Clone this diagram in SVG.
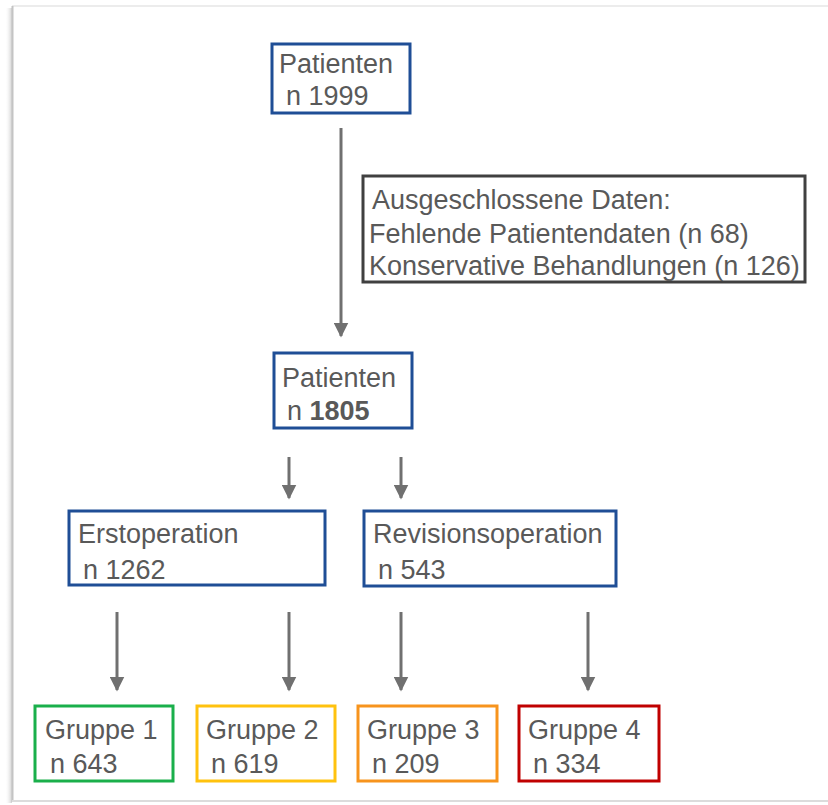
<svg xmlns="http://www.w3.org/2000/svg" width="828" height="805" viewBox="0 0 828 805">
<defs>
<marker id="ah" viewBox="0 0 10 10" refX="9" refY="5" markerWidth="5" markerHeight="5" markerUnits="strokeWidth" orient="auto">
<path d="M0,0 L10,5 L0,10 z" fill="#707070"/>
</marker>
<linearGradient id="sh" x1="0" x2="1" y1="0" y2="0">
<stop offset="0" stop-color="#ffffff" stop-opacity="0"/>
<stop offset="1" stop-color="#d0d0d0"/>
</linearGradient>
</defs>
<style>
text{font-family:"Liberation Sans",Arial,sans-serif;font-size:27px;fill:#595959}
.b{fill:#fff;stroke-width:3}
.blue{stroke:#1f4e96}
.conn line{stroke:#707070;stroke-width:3;marker-end:url(#ah)}
</style>
<rect width="828" height="805" fill="#fff"/>
<g id="frame">
<rect x="5" y="8" width="7" height="795" fill="url(#sh)"/>
<line x1="12" y1="6" x2="828" y2="6" stroke="#ececec" stroke-width="2"/>
<line x1="12.5" y1="6" x2="12.5" y2="802" stroke="#c4c4c4" stroke-width="2"/>
<line x1="12" y1="801" x2="828" y2="801" stroke="#dcdcdc" stroke-width="2"/>
</g>
<g class="conn">
<line x1="341" y1="128" x2="341" y2="336"/>
<line x1="289" y1="457" x2="289" y2="498"/>
<line x1="401" y1="457" x2="401" y2="498"/>
<line x1="117" y1="612" x2="117" y2="690"/>
<line x1="289" y1="612" x2="289" y2="690"/>
<line x1="401" y1="612" x2="401" y2="690"/>
<line x1="588" y1="612" x2="588" y2="690"/>
</g>
<g id="n1999">
<rect class="b blue" x="272" y="44" width="138" height="69"/>
<text x="279" y="73">Patienten</text>
<text x="286" y="105">n 1999</text>
</g>
<g id="excluded">
<rect class="b" stroke="#404040" x="363" y="176" width="442" height="106"/>
<text x="372" y="209">Ausgeschlossene Daten:</text>
<text x="369" y="243">Fehlende Patientendaten (n 68)</text>
<text x="369" y="275">Konservative Behandlungen (n 126)</text>
</g>
<g id="n1805">
<rect class="b blue" x="274" y="353" width="138" height="75"/>
<text x="282" y="387">Patienten</text>
<text x="287" y="420">n <tspan font-weight="bold">1805</tspan></text>
</g>
<g id="erst">
<rect class="b blue" x="69" y="511" width="256" height="74"/>
<text x="78" y="543">Erstoperation</text>
<text x="83" y="579">n 1262</text>
</g>
<g id="rev">
<rect class="b blue" x="364" y="511" width="252" height="75"/>
<text x="373" y="543">Revisionsoperation</text>
<text x="378" y="579">n 543</text>
</g>
<g id="g1">
<rect class="b" stroke="#1aaf4b" x="35" y="706" width="138" height="75"/>
<text x="45" y="739">Gruppe 1</text>
<text x="50" y="773">n 643</text>
</g>
<g id="g2">
<rect class="b" stroke="#ffc20e" x="197" y="706" width="138" height="75"/>
<text x="206" y="739">Gruppe 2</text>
<text x="211" y="773">n 619</text>
</g>
<g id="g3">
<rect class="b" stroke="#f7941d" x="358" y="706" width="139" height="75"/>
<text x="367" y="739">Gruppe 3</text>
<text x="372" y="773">n 209</text>
</g>
<g id="g4">
<rect class="b" stroke="#c00000" x="519" y="706" width="140" height="75"/>
<text x="528" y="739">Gruppe 4</text>
<text x="533" y="773">n 334</text>
</g>
</svg>
